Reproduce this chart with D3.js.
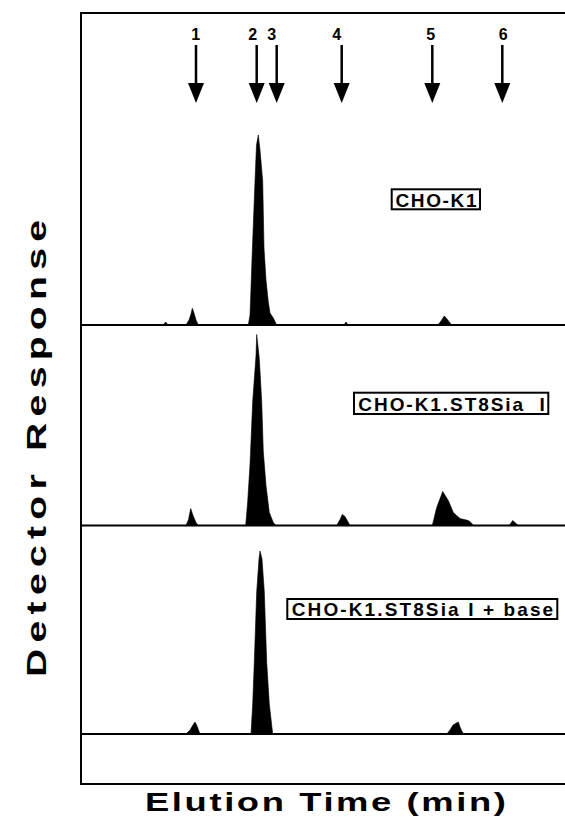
<!DOCTYPE html>
<html>
<head>
<meta charset="utf-8"/>
<script src="https://d3js.org/d3.v7.min.js"></script>
<style>
  body { margin: 0; background: #fff; }
  text { font-family: "Liberation Sans", Arial, Helvetica, sans-serif; font-weight: bold; fill: #000; }
</style>
</head>
<body>
<svg id="chart" width="565" height="838"></svg>
<script>
// marker peaks (elution time, min)
let markerNames = ["1", "2", "3", "4", "5", "6"];
let markerTimes = [11.5, 17.57, 19.57, 26.07, 35.13, 42.13];
let markerLabelTimes = [11.47, 17.17, 19.07, 25.57, 34.97, 42.23];

// sample names, one per trace
let sampleNames = ["CHO-K1", "CHO-K1.ST8Sia  I", "CHO-K1.ST8Sia I + base"];

// traces: [time (min), detector response]
let traceCHO = [
  [0, 0], [8.2, 0], [8.47, 3], [8.7, 0],
  [10.5, 0], [10.8, 5], [11.0, 11], [11.13, 16.7], [11.3, 12], [11.5, 5], [11.73, 0],
  [16.73, 0], [16.9, 10], [16.95, 23], [17.13, 74], [17.4, 144], [17.55, 180], [17.73, 190],
  [17.9, 175], [18.17, 144], [18.3, 77], [18.5, 45], [18.73, 23], [18.9, 12], [19.23, 7], [19.57, 0],
  [26.3, 0], [26.5, 3], [26.7, 0],
  [35.7, 0], [36.0, 4], [36.33, 9], [36.6, 6], [37.07, 0],
  [48.4, 0]
];
let traceST8 = [
  [0, 0],
  [10.5, 0], [10.75, 6], [10.97, 17], [11.2, 10], [11.5, 3], [11.73, 0],
  [16.47, 0], [16.67, 24], [16.9, 61], [17.17, 124], [17.5, 170], [17.57, 191], [17.83, 167],
  [18.07, 124], [18.23, 74], [18.5, 40], [18.83, 13], [19.23, 3], [19.5, 0],
  [25.57, 0], [25.9, 6], [26.13, 11], [26.4, 9], [26.9, 0],
  [35.13, 0], [35.57, 18], [36.17, 34], [36.73, 25], [37.23, 13], [37.9, 7], [38.73, 5], [39.0, 3], [39.23, 0],
  [42.83, 0], [43.17, 5], [43.73, 0],
  [48.4, 0]
];
let traceBase = [
  [0, 0],
  [10.5, 0], [10.9, 4], [11.2, 9], [11.4, 12], [11.6, 8], [11.9, 0],
  [17.0, 0], [17.17, 30], [17.33, 72], [17.57, 142], [17.8, 175], [17.9, 183], [18.1, 175],
  [18.33, 142], [18.57, 72], [18.83, 30], [19.17, 0],
  [36.57, 0], [36.9, 4], [37.2, 9], [37.73, 12], [37.9, 7], [38.23, 0],
  [48.4, 0]
];
let traces = [traceCHO, traceST8, traceBase];

let svg = d3.select("svg#chart");
let frameLeft = 81, frameRight = 565, frameTop = 13, frameBottom = 784;
let baselines = [325, 525.5, 734];

let xScale = d3.scaleLinear().domain([0, 48.4]).range([frameLeft, frameRight]);

// frame
svg.append("line").attr("x1", frameLeft).attr("x2", frameRight).attr("y1", frameTop).attr("y2", frameTop)
    .style("stroke", "#000").style("stroke-width", 2);
svg.append("line").attr("x1", frameLeft).attr("x2", frameLeft).attr("y1", frameTop - 1).attr("y2", frameBottom + 1)
    .style("stroke", "#000").style("stroke-width", 2);
svg.append("line").attr("x1", frameLeft).attr("x2", frameRight).attr("y1", frameBottom).attr("y2", frameBottom)
    .style("stroke", "#000").style("stroke-width", 2);

// traces
traces.forEach(function(tr, i) {
    let yScale = d3.scaleLinear().domain([0, 200]).range([baselines[i], baselines[i] - 200]);
    let area = d3.area()
        .x(d => xScale(d[0]))
        .y0(yScale(0))
        .y1(d => yScale(d[1]));
    svg.append("path").datum(tr).attr("d", area).style("fill", "#000").style("stroke", "#000").style("stroke-width", 0.6);
    svg.append("line")
        .attr("x1", frameLeft).attr("x2", frameRight)
        .attr("y1", yScale(0)).attr("y2", yScale(0))
        .style("stroke", "#000").style("stroke-width", 2);
});

// marker arrows
markerTimes.forEach(function(t, i) {
    let x = xScale(t);
    svg.append("line").attr("x1", x).attr("x2", x).attr("y1", 45).attr("y2", 86)
        .style("stroke", "#000").style("stroke-width", 2.5);
    svg.append("path")
        .attr("d", "M" + (x - 8) + ",83 L" + (x + 8) + ",83 L" + x + ",103 Z")
        .style("fill", "#000");
    svg.append("text")
        .text(markerNames[i])
        .attr("x", xScale(markerLabelTimes[i]))
        .attr("y", 39.5)
        .attr("text-anchor", "middle")
        .style("font-size", "16px");
});

// sample labels in boxes
let boxes = [
    {x: 391.7, y: 189.3, w: 88.3, h: 20, tx: 395.5, ty: 206.5, tl: 81},
    {x: 354, y: 392.7, w: 194.3, h: 21.3, tx: 358.3, ty: 410.5, tl: 186.5},
    {x: 287.3, y: 599, w: 270, h: 20, tx: 291.7, ty: 615.7, tl: 261.5}
];
boxes.forEach(function(b, i) {
    svg.append("rect").attr("x", b.x).attr("y", b.y).attr("width", b.w).attr("height", b.h)
        .style("fill", "#fff").style("stroke", "#000").style("stroke-width", 2);
    svg.append("text")
        .text(sampleNames[i])
        .attr("x", b.tx).attr("y", b.ty)
        .attr("textLength", b.tl)
        .attr("lengthAdjust", "spacing")
        .style("white-space", "pre")
        .style("font-size", "19px");
});

// axis titles (extended lettering: glyph stretch + some spacing)
svg.append("text")
    .text("Detector Response")
    .attr("transform", "translate(46,448.5) rotate(-90) scale(1.45,1)")
    .attr("text-anchor", "middle")
    .attr("textLength", 457 / 1.45)
    .attr("lengthAdjust", "spacing")
    .style("font-size", "27px");

svg.append("text")
    .text("Elution Time (min)")
    .attr("transform", "translate(325.5,811) scale(1.4,1)")
    .attr("text-anchor", "middle")
    .attr("textLength", 361 / 1.4)
    .attr("lengthAdjust", "spacing")
    .style("font-size", "26px");
</script>
</body>
</html>
